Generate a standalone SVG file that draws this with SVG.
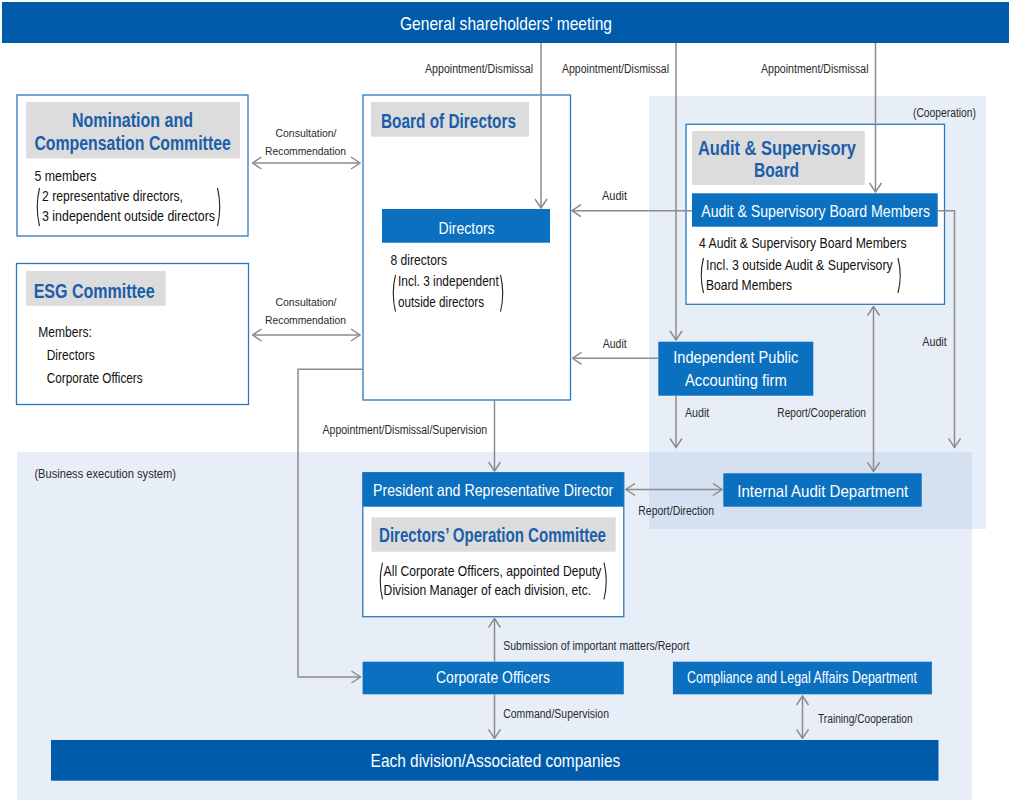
<svg xmlns="http://www.w3.org/2000/svg" width="1011" height="802" viewBox="0 0 1011 802">
<defs>
<style>
text{font-family:"Liberation Sans",Arial,sans-serif}
.s{font-size:12px;fill:#2a2a2a}
.s2{font-size:11.5px;fill:#2a2a2a}
.b{font-size:14.5px;fill:#111}
.t{font-size:20px;fill:#1b5ea9;font-weight:bold}
.w{font-size:17px;fill:#fff}
.box{fill:#fff;stroke:#2b78be;stroke-width:1.3}
.hdr{fill:#dcdcdc}
.blue{fill:#0a70bf}
.dark{fill:#005bab}
.par{fill:none;stroke:#222;stroke-width:1.1}
.c{fill:none;stroke:#8c8c8c;stroke-width:1.5}
</style>
<marker id="ah" viewBox="0 0 11 14" refX="10" refY="7" markerWidth="11" markerHeight="14" markerUnits="userSpaceOnUse" orient="auto-start-reverse">
<path d="M1,1 L10,7 L1,13" fill="none" stroke="#8c8c8c" stroke-width="1.5"/>
</marker>
</defs>
<rect width="1011" height="802" fill="#fff"/>
<g id="regions">
<rect x="17" y="452" width="955" height="348" fill="#e8eef8"/>
<rect x="649" y="96" width="337" height="433" fill="#e7eef8"/>
<rect x="649" y="452" width="323" height="77" fill="#d5e1f1"/>
<text class="s" x="913" y="116.5" textLength="63" lengthAdjust="spacingAndGlyphs">(Cooperation)</text>
<text class="s" x="34.4" y="478.3" textLength="141.6" lengthAdjust="spacingAndGlyphs" style="font-size:13px">(Business execution system)</text>
</g>
<g id="shareholders">
<rect x="2" y="2" width="1007" height="41" class="dark"/>
<text class="w" x="400" y="30" textLength="212" lengthAdjust="spacingAndGlyphs" style="font-size:19px">General shareholders’ meeting</text>
</g>
<g id="nomination">
<rect class="box" x="17" y="95" width="231" height="141"/>
<rect class="hdr" x="26" y="102" width="214" height="56.5"/>
<text class="t" x="72" y="127" textLength="121" lengthAdjust="spacingAndGlyphs">Nomination and</text>
<text class="t" transform="translate(34.4,150) scale(0.8,1)" x="0" y="0" textLength="245.5" lengthAdjust="spacingAndGlyphs">Compensation Committee</text>
<text class="b" x="34.4" y="181" textLength="62" lengthAdjust="spacingAndGlyphs">5 members</text>
<text class="b" x="42" y="200.5" textLength="141" lengthAdjust="spacingAndGlyphs">2 representative directors,</text>
<text class="b" x="42" y="220.5" textLength="173" lengthAdjust="spacingAndGlyphs">3 independent outside directors</text>
<path class="par" d="M39.5,188 Q35,207 39.5,226"/>
<path class="par" d="M217.5,188 Q222,207 217.5,226"/>
</g>
<g id="esg">
<rect class="box" x="16.5" y="263.5" width="232" height="141"/>
<rect class="hdr" x="26" y="271" width="139.7" height="34.7"/>
<text class="t" x="33.7" y="297.7" textLength="121" lengthAdjust="spacingAndGlyphs">ESG Committee</text>
<text class="b" x="38.3" y="336.7" textLength="53.5" lengthAdjust="spacingAndGlyphs">Members:</text>
<text class="b" x="46.7" y="360" textLength="48" lengthAdjust="spacingAndGlyphs">Directors</text>
<text class="b" x="46.7" y="382.7" textLength="96" lengthAdjust="spacingAndGlyphs">Corporate Officers</text>
</g>
<g id="board">
<rect class="box" x="363" y="95" width="207.5" height="305"/>
<rect class="hdr" x="371" y="102" width="158" height="34.7"/>
<text class="t" x="381" y="128" textLength="135" lengthAdjust="spacingAndGlyphs">Board of Directors</text>
<rect class="blue" x="382" y="209" width="168" height="33.7"/>
<text class="w" x="438.6" y="233.5" textLength="56" lengthAdjust="spacingAndGlyphs">Directors</text>
<text class="b" x="390.4" y="265" textLength="56.6" lengthAdjust="spacingAndGlyphs">8 directors</text>
<text class="b" x="398" y="286" textLength="100.7" lengthAdjust="spacingAndGlyphs">Incl. 3 independent</text>
<text class="b" x="398" y="307.3" textLength="86" lengthAdjust="spacingAndGlyphs">outside directors</text>
<path class="par" d="M395.5,275 Q391,293.3 395.5,311.7"/>
<path class="par" d="M500.5,275 Q505,293.3 500.5,311.7"/>
</g>
<g id="asb">
<rect class="box" x="686" y="124.3" width="258.5" height="180"/>
<rect class="hdr" x="692" y="131" width="172.7" height="54"/>
<text class="t" x="698" y="155" textLength="158" lengthAdjust="spacingAndGlyphs">Audit &amp; Supervisory</text>
<text class="t" x="754" y="177" textLength="45" lengthAdjust="spacingAndGlyphs">Board</text>
<rect class="blue" x="692" y="193.3" width="245.7" height="33.4"/>
<text class="w" x="701.3" y="216.7" textLength="228.7" lengthAdjust="spacingAndGlyphs">Audit &amp; Supervisory Board Members</text>
<text class="b" x="699" y="248.3" textLength="207.7" lengthAdjust="spacingAndGlyphs">4 Audit &amp; Supervisory Board Members</text>
<text class="b" x="706" y="270" textLength="186.7" lengthAdjust="spacingAndGlyphs">Incl. 3 outside Audit &amp; Supervisory</text>
<text class="b" x="706" y="290" textLength="86" lengthAdjust="spacingAndGlyphs">Board Members</text>
<path class="par" d="M703.5,258 Q699,275.5 703.5,293"/>
<path class="par" d="M898,258 Q902.5,275.5 898,293"/>
</g>
<g id="accounting">
<rect class="blue" x="658.3" y="341.7" width="155" height="54"/>
<text class="w" x="673.3" y="363.3" textLength="125" lengthAdjust="spacingAndGlyphs">Independent Public</text>
<text class="w" x="685" y="386" textLength="101.7" lengthAdjust="spacingAndGlyphs">Accounting firm</text>
</g>
<g id="internal-audit">
<rect class="blue" x="723.3" y="473.3" width="198.4" height="33.4"/>
<text class="w" x="737.3" y="496.7" textLength="171" lengthAdjust="spacingAndGlyphs">Internal Audit Department</text>
</g>
<g id="president">
<rect class="box" x="362.8" y="472.7" width="261" height="144"/>
<rect class="blue" x="362.8" y="472.7" width="261" height="34"/>
<text class="w" x="373" y="496" textLength="240.3" lengthAdjust="spacingAndGlyphs">President and Representative Director</text>
<rect class="hdr" x="371.5" y="517.3" width="244.2" height="34.4"/>
<text class="t" x="379" y="541.7" textLength="227" lengthAdjust="spacingAndGlyphs">Directors’ Operation Committee</text>
<text class="b" x="383.6" y="576" textLength="217.8" lengthAdjust="spacingAndGlyphs">All Corporate Officers, appointed Deputy</text>
<text class="b" x="383.6" y="595" textLength="207.6" lengthAdjust="spacingAndGlyphs">Division Manager of each division, etc.</text>
<path class="par" d="M382.5,562.7 Q378,581 382.5,599.3"/>
<path class="par" d="M604,562.7 Q608.5,581 604,599.3"/>
</g>
<g id="corporate-officers">
<rect class="blue" x="362.6" y="661.7" width="261.2" height="32.6"/>
<text class="w" x="436" y="683.3" textLength="114" lengthAdjust="spacingAndGlyphs">Corporate Officers</text>
</g>
<g id="compliance">
<rect class="blue" x="672.9" y="661.7" width="259" height="32.6"/>
<text class="w" x="687" y="683.3" textLength="230" lengthAdjust="spacingAndGlyphs">Compliance and Legal Affairs Department</text>
</g>
<g id="divisions">
<rect class="dark" x="51" y="740" width="887.5" height="40.7"/>
<text class="w" x="370.6" y="766.7" textLength="249.6" lengthAdjust="spacingAndGlyphs" style="font-size:19px">Each division/Associated companies</text>
</g>
<g id="connectors">
<path class="c" d="M541,43 V208" marker-end="url(#ah)"/>
<path class="c" d="M676,43 V340" marker-end="url(#ah)"/>
<path class="c" d="M875.5,43 V192" marker-end="url(#ah)"/>
<path class="c" d="M692,210.7 H572" marker-end="url(#ah)"/>
<path class="c" d="M938,210.7 H954.5 V447.5" marker-end="url(#ah)"/>
<path class="c" d="M873.5,306.5 V471.5" marker-start="url(#ah)" marker-end="url(#ah)"/>
<path class="c" d="M658.3,358.3 H572.5" marker-end="url(#ah)"/>
<path class="c" d="M676,395.7 V447.5" marker-end="url(#ah)"/>
<path class="c" d="M494.5,400 V471" marker-end="url(#ah)"/>
<path class="c" d="M363,369.3 H298 V677 H360.5" marker-end="url(#ah)"/>
<path class="c" d="M626,489.5 H722" marker-start="url(#ah)" marker-end="url(#ah)"/>
<path class="c" d="M494.5,661.7 V618.5" marker-end="url(#ah)"/>
<path class="c" d="M494.5,694.3 V738.3" marker-end="url(#ah)"/>
<path class="c" d="M802.5,696 V738.3" marker-start="url(#ah)" marker-end="url(#ah)"/>
<path class="c" d="M252.5,163 H360" marker-start="url(#ah)" marker-end="url(#ah)"/>
<path class="c" d="M252.5,335 H360" marker-start="url(#ah)" marker-end="url(#ah)"/>
<text class="s" x="425" y="73" textLength="108" lengthAdjust="spacingAndGlyphs">Appointment/Dismissal</text>
<text class="s" x="562" y="73" textLength="107" lengthAdjust="spacingAndGlyphs">Appointment/Dismissal</text>
<text class="s" x="761" y="73" textLength="107.6" lengthAdjust="spacingAndGlyphs">Appointment/Dismissal</text>
<text class="s2"><tspan x="275.5" y="137" textLength="61" lengthAdjust="spacingAndGlyphs">Consultation/</tspan><tspan x="265" y="155" textLength="81" lengthAdjust="spacingAndGlyphs">Recommendation</tspan></text>
<text class="s2"><tspan x="275.5" y="306" textLength="61" lengthAdjust="spacingAndGlyphs">Consultation/</tspan><tspan x="265" y="324" textLength="81" lengthAdjust="spacingAndGlyphs">Recommendation</tspan></text>
<text class="s" x="602" y="200" textLength="25" lengthAdjust="spacingAndGlyphs">Audit</text>
<text class="s" x="602.7" y="347.7" textLength="24" lengthAdjust="spacingAndGlyphs">Audit</text>
<text class="s" x="685" y="416.7" textLength="24.3" lengthAdjust="spacingAndGlyphs">Audit</text>
<text class="s" x="922.3" y="345.7" textLength="24.4" lengthAdjust="spacingAndGlyphs">Audit</text>
<text class="s" x="777.3" y="416.7" textLength="88.7" lengthAdjust="spacingAndGlyphs">Report/Cooperation</text>
<text class="s" x="322.6" y="434.3" textLength="164.6" lengthAdjust="spacingAndGlyphs">Appointment/Dismissal/Supervision</text>
<text class="s" x="638.3" y="515" textLength="75.7" lengthAdjust="spacingAndGlyphs">Report/Direction</text>
<text class="s" x="503.2" y="650" textLength="186.2" lengthAdjust="spacingAndGlyphs">Submission of important matters/Report</text>
<text class="s" x="503.2" y="718.3" textLength="105.8" lengthAdjust="spacingAndGlyphs">Command/Supervision</text>
<text class="s" x="818" y="722.7" textLength="94.6" lengthAdjust="spacingAndGlyphs">Training/Cooperation</text>
</g>
</svg>
